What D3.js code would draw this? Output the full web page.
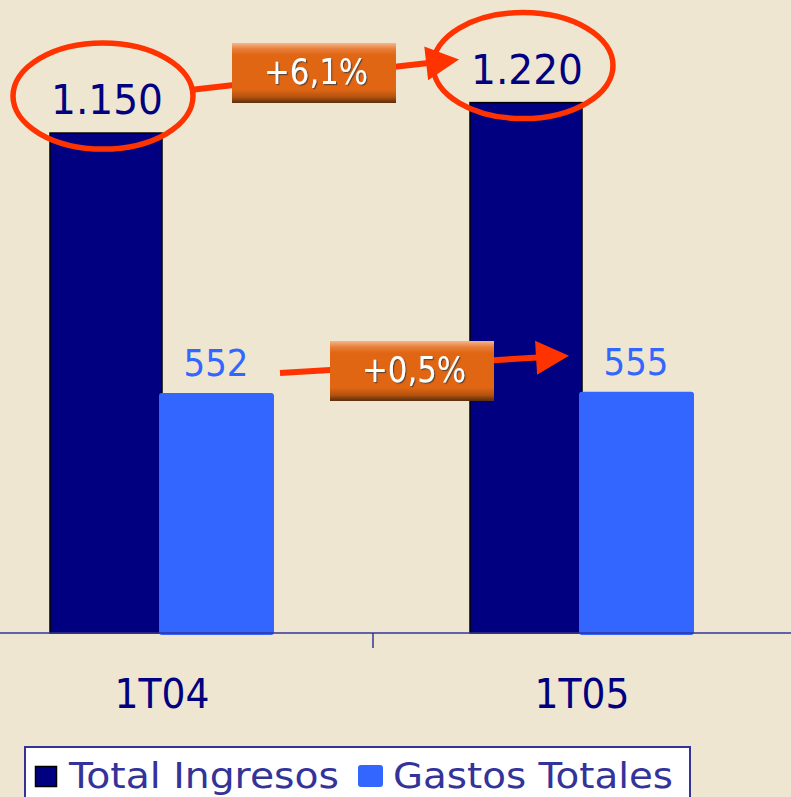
<!DOCTYPE html>
<html><head><meta charset="utf-8">
<script src="https://cdn.jsdelivr.net/npm/d3@7"></script>
<style>html,body{margin:0;padding:0;background:#EFE6D1;overflow:hidden}</style>
</head><body>
<svg id="c" width="791" height="797"></svg>
<script>
const categories = ["1T04", "1T05"];
const seriesNames = ["Total Ingresos", "Gastos Totales"];
const ingresos = [1150, 1220];
const gastos = [552, 555];
const valueLabels = [["1.150", "1.220"], ["552", "555"]];
const changeLabels = ["+6,1%", "+0,5%"];

const W = 791, H = 797;
const svg = d3.select("#c");
const font = "'DejaVu Sans', Verdana, sans-serif";
const navy = "#000080", blue = "#3366FF", axisCol = "#333399", red = "#FF3300";

svg.append("rect").attr("width", W).attr("height", H).attr("fill", "#EFE6D1");

const defs = svg.append("defs");
const g = defs.append("linearGradient").attr("id", "boxg").attr("x1", 0).attr("y1", 0).attr("x2", 0).attr("y2", 1);
[[0, "#F6B58A"], [0.1, "#E97E3A"], [0.2, "#E06614"], [0.78, "#E06614"], [0.9, "#B3520F"], [1, "#5A2E0E"]]
  .forEach(([o, c]) => g.append("stop").attr("offset", o).attr("stop-color", c));
const f = defs.append("filter").attr("id", "ts").attr("x", "-10%").attr("y", "-10%").attr("width", "130%").attr("height", "130%");
f.append("feDropShadow").attr("dx", 1.2).attr("dy", 1.2).attr("stdDeviation", 0.6).attr("flood-color", "#5a4030").attr("flood-opacity", 0.9);

const baseY = 633;
const x0 = d3.scaleBand().domain(categories).range([-48, 792]).paddingInner(0);
const x1 = d3.scaleBand().domain(seriesNames).range([98, 98 + 224]).paddingInner(0);
const y = d3.scaleLinear().domain([0, 1456]).range([baseY, 0]);
const bw = 112;

// bars
const data = categories.map((c, i) => ({ c, vals: [ingresos[i], gastos[i]] }));
const grp = svg.append("g").selectAll("g").data(data).join("g")
  .attr("transform", d => `translate(${x0(d.c)},0)`);
// Gastos first? Ingresos drawn first, gastos overlap on top
grp.append("rect")
  .attr("x", x1(seriesNames[0])).attr("width", bw)
  .attr("y", d => y(d.vals[0])).attr("height", d => baseY - y(d.vals[0]))
  .attr("fill", navy).attr("stroke", "#000").attr("stroke-width", 1.5);
grp.append("rect")
  .attr("x", x1(seriesNames[1]) - 3).attr("width", bw + 3)
  .attr("y", d => y(d.vals[1])).attr("height", d => baseY - y(d.vals[1]) + 2)
  .attr("rx", 3).attr("fill", blue);

// axis
const axis = svg.append("g").attr("transform", `translate(0,${baseY})`)
  .call(d3.axisBottom(x0).tickSize(0).tickFormat(""));
axis.select(".domain").attr("stroke", axisCol).attr("stroke-width", 1.5).attr("d", `M0,0H${W}`);
svg.append("line").attr("x1", x0("1T05") + 1).attr("x2", x0("1T05") + 1)
  .attr("y1", baseY).attr("y2", baseY + 15).attr("stroke", axisCol).attr("stroke-width", 1.5);

// category labels
categories.forEach(c => {
  const cx = x0(c) + 98 + 112;
  svg.append("text").attr("x", cx).attr("y", 708).attr("text-anchor", "middle")
    .attr("font-family", font).attr("font-size", 40).attr("fill", navy)
    .attr("textLength", 95).attr("lengthAdjust", "spacingAndGlyphs").text(c);
});

// value labels
const labPos = [];
categories.forEach((c, i) => {
  const cxI = x0(c) + x1(seriesNames[0]) + bw / 2;
  const byI = y(ingresos[i]) - 19;
  svg.append("text").attr("x", cxI + 1).attr("y", byI).attr("text-anchor", "middle")
    .attr("font-family", font).attr("font-size", 40).attr("fill", navy)
    .attr("textLength", 112).attr("lengthAdjust", "spacingAndGlyphs").text(valueLabels[0][i]);
  const cxG = x0(c) + x1(seriesNames[1]) + bw / 2;
  const byG = y(gastos[i]) - 17;
  svg.append("text").attr("x", cxG - 2).attr("y", byG).attr("text-anchor", "middle")
    .attr("font-family", font).attr("font-size", 37).attr("fill", blue)
    .attr("textLength", 65).attr("lengthAdjust", "spacingAndGlyphs").text(valueLabels[1][i]);
  labPos.push({ cxI, byI, cxG, byG });
});

// ellipses around Ingresos labels
labPos.forEach(p => {
  svg.append("ellipse").attr("cx", p.cxI - 3).attr("cy", p.byI - 18)
    .attr("rx", 90).attr("ry", 53).attr("fill", "none").attr("stroke", red).attr("stroke-width", 5.5);
});

function arrow(x1a, y1a, x2a, y2a) {
  const ang = Math.atan2(y2a - y1a, x2a - x1a);
  const L = 33, Wd = 17;
  const bx = x2a - L * Math.cos(ang), by = y2a - L * Math.sin(ang);
  svg.append("line").attr("x1", x1a).attr("y1", y1a).attr("x2", bx + 2 * Math.cos(ang)).attr("y2", by + 2 * Math.sin(ang))
    .attr("stroke", red).attr("stroke-width", 6);
  const px = -Math.sin(ang), py = Math.cos(ang);
  svg.append("path").attr("d", `M${x2a},${y2a}L${bx + px * Wd},${by + py * Wd}L${bx - px * Wd},${by - py * Wd}Z`)
    .attr("fill", red);
}
function box(cx, cy, txt) {
  svg.append("rect").attr("x", cx - 82).attr("y", cy - 30).attr("width", 164).attr("height", 60)
    .attr("fill", "url(#boxg)");
  svg.append("text").attr("x", cx + 2).attr("y", cy + 11).attr("text-anchor", "middle")
    .attr("font-family", font).attr("font-size", 35).attr("fill", "#fff").attr("filter", "url(#ts)")
    .attr("textLength", 104).attr("lengthAdjust", "spacingAndGlyphs").text(txt);
}
// arrow 1: between Ingresos ellipses
const p0 = labPos[0], p1 = labPos[1];
arrow(p0.cxI + 84, p0.byI - 24, p1.cxI - 67, p1.byI - 24);
box(314, 73, changeLabels[0]);
// arrow 2: between Gastos labels
arrow(p0.cxG + 62, p0.byG - 3, p1.cxG - 69, p1.byG - 19);
box(412, 371, changeLabels[1]);

// legend
const lg = svg.append("g");
lg.append("rect").attr("x", 25).attr("y", 747).attr("width", 665).attr("height", 70)
  .attr("fill", "#fff").attr("stroke", axisCol).attr("stroke-width", 2);
lg.append("rect").attr("x", 35.5).attr("y", 766.5).attr("width", 21).attr("height", 20)
  .attr("fill", navy).attr("stroke", "#000").attr("stroke-width", 1.5);
lg.append("rect").attr("x", 358).attr("y", 765).attr("width", 25).attr("height", 22).attr("rx", 3)
  .attr("fill", blue);
lg.append("text").attr("x", 69).attr("y", 788).attr("font-family", font).attr("font-size", 36)
  .attr("fill", axisCol).attr("textLength", 270).attr("lengthAdjust", "spacingAndGlyphs").text(seriesNames[0]);
lg.append("text").attr("x", 393).attr("y", 788).attr("font-family", font).attr("font-size", 36)
  .attr("fill", axisCol).attr("textLength", 280).attr("lengthAdjust", "spacingAndGlyphs").text(seriesNames[1]);
</script>
</body></html>
